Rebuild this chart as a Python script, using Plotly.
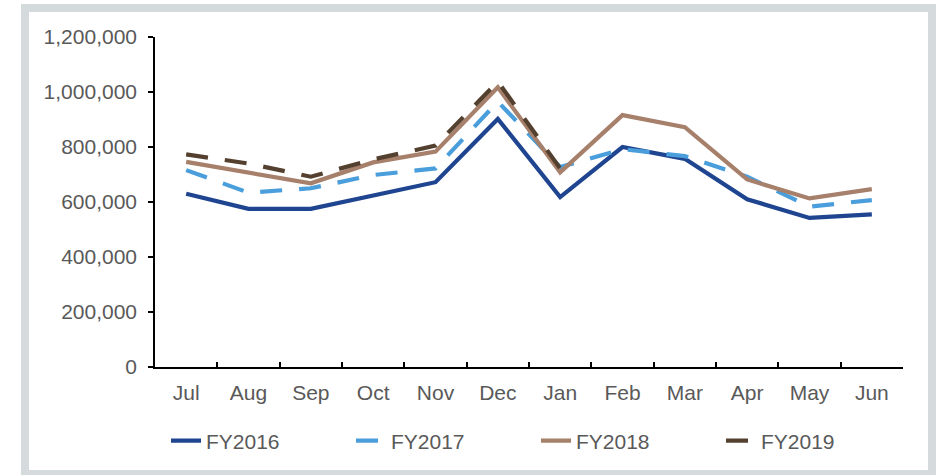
import plotly.graph_objects as go

months = ["Jul", "Aug", "Sep", "Oct", "Nov", "Dec", "Jan", "Feb", "Mar", "Apr", "May", "Jun"]
fy2016 = [630000, 575000, 575000, 625000, 672000, 902000, 618000, 800000, 757000, 610000, 542000, 555000]
fy2017 = [716000, 634000, 650000, 698000, 722000, 965000, 727000, 792000, 767000, 692000, 583000, 607000]
fy2018 = [746000, 707000, 668000, 744000, 783000, 1017000, 708000, 916000, 872000, 682000, 613000, 647000]
fy2019 = [773000, 740000, 692000, 755000, 805000, 1038000, 722000]
series_names = ["FY2016", "FY2017", "FY2018", "FY2019"]
y_ticks = [0, 200000, 400000, 600000, 800000, 1000000, 1200000]

W, H = 936, 475
L, R, T, B = 155, 33, 37, 108
pw, ph = W - L - R, H - T - B

fig = go.Figure()
styles = [
    dict(color="#1F4591", width=4.2, dash="solid"),
    dict(color="#4A9EDB", width=4.2, dash="22px,17px"),
    dict(color="#A6806B", width=4.2, dash="solid"),
    dict(color="#54402F", width=4.2, dash="22px,17px"),
]
for name, vals, st in zip(series_names, [fy2016, fy2017, fy2018, fy2019], styles):
    fig.add_trace(go.Scatter(x=months[:len(vals)], y=vals, mode="lines", name=name,
                             line=st, hoverinfo="skip"))

def px_x(p):
    return (p - L) / pw

def px_y(p):
    return (H - B - p) / ph

fig.add_shape(type="rect", xref="paper", yref="paper",
              x0=px_x(25), x1=px_x(932), y0=px_y(8), y1=px_y(474),
              line=dict(color="#D5DADD", width=8), fillcolor="rgba(0,0,0,0)", layer="below")

FS = 21
fig.update_layout(
    width=W, height=H,
    margin=dict(l=L, r=R, t=T, b=B, autoexpand=False),
    paper_bgcolor="white", plot_bgcolor="white",
    font=dict(family="Liberation Sans, Arial, sans-serif", size=FS, color="#595959"),
    showlegend=True,
    legend=dict(orientation="h", x=px_x(166), xanchor="left", y=px_y(441), yanchor="middle",
                entrywidth=140, entrywidthmode="pixels", font=dict(size=FS, color="#595959"),
                bgcolor="rgba(0,0,0,0)", borderwidth=0),
    xaxis=dict(type="category", categoryorder="array", categoryarray=months,
               range=[-0.5, 11.5], showline=True, linecolor="black", linewidth=1.5,
               ticks="inside", tickson="boundaries", ticklen=5, tickcolor="black", tickwidth=1.5,
               showgrid=False, zeroline=False, ticklabelstandoff=6,
               tickfont=dict(size=FS, color="#595959")),
    yaxis=dict(range=[0, 1200000], tickvals=y_ticks, tickformat=",d",
               showline=True, linecolor="black", linewidth=1.5,
               ticks="outside", ticklen=5, tickcolor="black", tickwidth=1.5,
               showgrid=False, zeroline=False, ticklabelstandoff=7,
               tickfont=dict(size=FS, color="#595959")),
)
fig.write_html("out.html", config={"displayModeBar": False},
               post_script="document.body.style.margin='0';document.body.style.overflow='hidden';")
